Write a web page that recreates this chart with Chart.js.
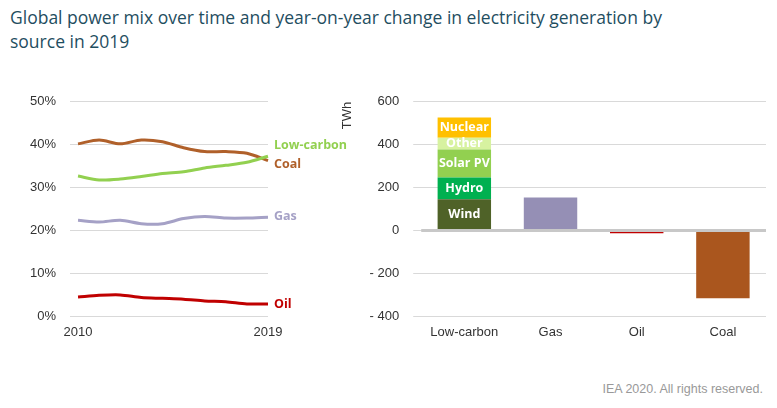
<!DOCTYPE html><html><head><meta charset="utf-8">
<script src="https://cdn.jsdelivr.net/npm/chart.js@4"></script>
<style>body{margin:0;width:777px;height:408px;background:#fff;font-family:Arial,"Liberation Sans",sans-serif;position:relative;overflow:hidden}
#t{position:absolute;left:10px;top:5px;font-size:17.5px;color:#1f4e5f;line-height:24px;font-family:"Open Sans",sans-serif}
#f{position:absolute;right:14px;top:382px;font-size:12.5px;color:#999}
canvas{position:absolute}</style></head><body>
<div id="t">Global power mix over time and year-on-year change in electricity generation by<br>source in 2019</div>
<div style="position:absolute;left:0;top:80px;width:350px;height:260px"><canvas id="a"></canvas></div>
<div style="position:absolute;left:340px;top:80px;width:430px;height:260px"><canvas id="b"></canvas></div>
<div id="f">IEA 2020. All rights reserved.</div>
<script>
const years=['2010','2011','2012','2013','2014','2015','2016','2017','2018','2019'];
const coal=[40.2,41.1,40.2,41.1,40.7,39.3,38.4,38.4,38.0,36.3];
const lowCarbon=[32.7,31.8,32.0,32.6,33.3,33.7,34.6,35.2,35.9,37.3];
const gas=[22.4,22.0,22.4,21.6,21.6,22.8,23.3,22.9,22.9,23.1];
const oil=[4.5,4.9,5.0,4.4,4.2,4.0,3.6,3.4,2.9,2.9];
const cats=['Low-carbon','Gas','Oil','Coal'];
const wind=[146,null,null,null],hydro=[101,null,null,null],solar=[131,null,null,null],other=[54,null,null,null],nuclear=[95,null,null,null];
const change=[null,154,-12,-315];
const gridC='#d9d9d9',tickF={family:'Arial',size:13},tc='#333';
const endLabels={id:'el',afterDatasetsDraw(c){const x=c.ctx;x.save();x.font='bold 12.5px "Open Sans"';x.textBaseline='middle';
c.data.datasets.forEach((d,i)=>{const p=c.getDatasetMeta(i).data[9];x.fillStyle=d.borderColor;x.fillText(d.label,p.x+6,p.y+d.dy);});x.restore();}};
new Chart('a',{type:'line',data:{labels:years,datasets:[
{label:'Low-carbon',data:lowCarbon,borderColor:'#92d050',dy:-11},
{label:'Coal',data:coal,borderColor:'#b0602a',dy:4},
{label:'Gas',data:gas,borderColor:'#a5a1c6',dy:-1},
{label:'Oil',data:oil,borderColor:'#c00000',dy:0}]},
options:{animation:false,responsive:true,maintainAspectRatio:false,layout:{padding:{left:16,right:82,top:7,bottom:0}},
elements:{point:{radius:0},line:{borderWidth:3,tension:0.3}},plugins:{legend:{display:false},tooltip:{enabled:false}},
scales:{x:{offset:false,grid:{display:false},border:{display:false},ticks:{color:tc,font:tickF,maxRotation:0,autoSkip:false,padding:0,callback:(v,i)=>(i==0||i==9)?years[i]:''}},
y:{min:0,max:50,ticks:{stepSize:10,color:tc,font:tickF,padding:14,callback:v=>v+'%'},grid:{color:gridC},border:{display:false}}}},plugins:[endLabels]});
const inLabels={id:'il',afterDatasetsDraw(c){const x=c.ctx;x.save();x.font='bold 12.5px "Open Sans"';x.textAlign='center';x.textBaseline='middle';x.fillStyle='#fff';
for(let i=0;i<5;i++){const b=c.getDatasetMeta(i).data[0];x.fillText(c.data.datasets[i].label,b.x,(b.y+b.base)/2);}x.restore();}};
const zero={id:'z',afterDatasetsDraw(c){const y=c.scales.y.getPixelForValue(0),x=c.ctx;x.save();x.strokeStyle='#c8c8c8';x.lineWidth=3;x.beginPath();x.moveTo(c.chartArea.left,y);x.lineTo(c.chartArea.right,y);x.stroke();x.restore();}};
const bs={barPercentage:0.62,categoryPercentage:1};
new Chart('b',{type:'bar',data:{labels:cats,datasets:[
{label:'Wind',data:wind,backgroundColor:'#4f6228',...bs},
{label:'Hydro',data:hydro,backgroundColor:'#00b050',...bs},
{label:'Solar PV',data:solar,backgroundColor:'#92d050',...bs},
{label:'Other',data:other,backgroundColor:'#d7f2a0',...bs},
{label:'Nuclear',data:nuclear,backgroundColor:'#ffc000',...bs},
{label:'Change',data:change,backgroundColor:[null,'#958fb5','#c00000','#aa561e'],...bs}]},
options:{animation:false,responsive:true,maintainAspectRatio:false,layout:{padding:{right:4,top:5}},plugins:{legend:{display:false},tooltip:{enabled:false}},
scales:{x:{stacked:true,grid:{display:false},border:{display:false},ticks:{color:tc,font:tickF,padding:0}},
y:{stacked:true,min:-400,max:600,ticks:{stepSize:200,color:tc,font:tickF,padding:14,callback:v=>v<0?'- '+(-v):v},grid:{color:gridC},border:{display:false},
title:{display:true,text:'TWh',align:'end',color:tc,font:tickF,padding:0}}}},plugins:[inLabels,zero]});
</script></body></html>
